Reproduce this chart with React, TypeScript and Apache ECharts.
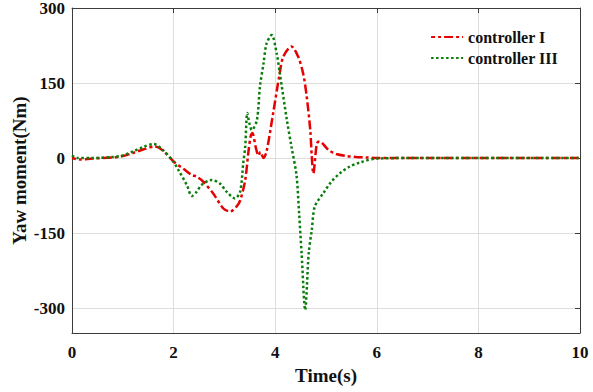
import React, { useEffect, useRef } from "react";
import * as echarts from "echarts";

const timeI = [0, 0.15, 0.4, 0.8, 1.0, 1.2, 1.4, 1.63, 1.8, 2.0, 2.2, 2.36, 2.45, 2.58, 2.78, 2.98, 3.11, 3.24, 3.31, 3.41, 3.47, 3.52, 3.55, 3.62, 3.67, 3.71, 3.77, 3.83, 3.96, 4.09, 4.16, 4.32, 4.45, 4.55, 4.62, 4.69, 4.72, 4.75, 4.82, 4.87, 5.05, 5.2, 5.4, 5.6, 5.8, 6.0, 7, 8, 9, 10];
const valueI = [0, -3, -1, 1, 4, 10, 17, 23, 14, -7, -22, -34, -37, -47, -71, -101, -107, -97, -85, -44, 10, 45, 50, 20, 5, 12, 0, 13, 90, 170, 203, 223, 203, 169, 123, 56, 3, -31, 29, 33, 16, 8, 4, 2, 1, 0, 0, 0, 0, 0];

const timeIII = [0, 0.1, 0.4, 0.8, 1.0, 1.2, 1.4, 1.6, 1.8, 2.0, 2.1, 2.26, 2.36, 2.45, 2.55, 2.75, 2.91, 3.05, 3.21, 3.31, 3.37, 3.41, 3.45, 3.49, 3.54, 3.64, 3.7, 3.77, 3.83, 3.93, 4.03, 4.09, 4.23, 4.32, 4.42, 4.47, 4.52, 4.59, 4.66, 4.72, 4.78, 4.95, 5.1, 5.28, 5.45, 5.67, 6.0, 7, 8, 9, 10];
const valueIII = [5, 0, 0, 2, 5, 13, 22, 28, 15, -8, -25, -54, -76, -68, -54, -44, -51, -68, -81, -67, -11, 23, 90, 70, 56, 76, 143, 189, 229, 246, 209, 170, 76, 23, -35, -110, -191, -304, -190, -144, -97, -70, -48, -30, -18, -9, -1, 0, 0, 0, 0];

const xTicks = { min: 0, max: 10, interval: 2 };
const yTicks = { min: -300, max: 300, interval: 150 };
const yRange = { min: -350, max: 300 };

const seriesNames = ["controller I", "controller III"];

const FONT = "Liberation Serif";
const AXIS = "#3c3c3c";
const GRIDC = "#dedede";
const RED = "#e60000";
const GREEN = "#0a7d0a";

export default function App() {
  const ref = useRef<HTMLDivElement>(null);
  useEffect(() => {
    if (!ref.current) return;
    const chart = echarts.init(ref.current, undefined, { renderer: "svg" });
    const dataI = timeI.map((t, i) => [t, valueI[i]]);
    const dataIII = timeIII.map((t, i) => [t, valueIII[i]]);
    const label = { fontFamily: FONT, fontWeight: "bold" as const, fontSize: 17, color: "#111" };
    chart.setOption({
      animation: false,
      backgroundColor: "#fff",
      textStyle: { fontFamily: FONT },
      grid: [
        { left: 72, top: 8, right: 13, bottom: 59 },
        { left: 72, top: 8, right: 13, bottom: 84 },
      ],
      legend: {
        right: 30,
        top: 24,
        orient: "vertical",
        itemWidth: 32,
        itemHeight: 12,
        itemGap: 5,
        itemStyle: { opacity: 0 },
        data: seriesNames,
        textStyle: { fontFamily: FONT, fontWeight: "bold", fontSize: 16, color: "#111" },
      },
      xAxis: [
        {
          type: "value",
          gridIndex: 0,
          min: xTicks.min,
          max: xTicks.max,
          interval: xTicks.interval,
          position: "bottom",
          name: "Time(s)",
          nameLocation: "middle",
          nameGap: 32,
          nameTextStyle: { ...label, fontSize: 19 },
          axisLine: { show: true, onZero: false, lineStyle: { color: AXIS, width: 1 } },
          axisTick: { show: false },
          splitLine: { show: true, lineStyle: { color: GRIDC, width: 1 } },
          axisLabel: { ...label, margin: 11 },
        },
        {
          type: "value",
          gridIndex: 0,
          min: xTicks.min,
          max: xTicks.max,
          interval: xTicks.interval,
          position: "top",
          axisLine: { show: true, onZero: false, lineStyle: { color: AXIS, width: 1 } },
          axisTick: { show: true, inside: true, length: 5, lineStyle: { color: AXIS } },
          splitLine: { show: false },
          axisLabel: { show: false },
        },
        {
          type: "value",
          gridIndex: 1,
          min: xTicks.min,
          max: xTicks.max,
          show: false,
        },
      ],
      yAxis: [
        {
          type: "value",
          gridIndex: 0,
          min: yRange.min,
          max: yRange.max,
          position: "left",
          name: "Yaw moment(Nm)",
          nameLocation: "middle",
          nameGap: 43,
          nameTextStyle: { ...label, fontSize: 19 },
          axisLine: { show: true, onZero: false, lineStyle: { color: AXIS, width: 1 } },
          axisTick: { show: false },
          splitLine: { show: false },
          axisLabel: { show: false },
        },
        {
          type: "value",
          gridIndex: 0,
          min: yRange.min,
          max: yRange.max,
          position: "right",
          axisLine: { show: true, onZero: false, lineStyle: { color: AXIS, width: 1 } },
          axisTick: { show: false },
          splitLine: { show: false },
          axisLabel: { show: false },
        },
        {
          type: "value",
          gridIndex: 1,
          min: yTicks.min,
          max: yTicks.max,
          interval: yTicks.interval,
          position: "left",
          axisLine: { show: false, onZero: false },
          axisTick: { show: false },
          splitLine: { show: true, lineStyle: { color: GRIDC, width: 1 } },
          axisLabel: { ...label, margin: 7 },
        },
        {
          type: "value",
          gridIndex: 1,
          min: yTicks.min,
          max: yTicks.max,
          interval: yTicks.interval,
          position: "right",
          axisLine: { show: false, onZero: false },
          axisTick: { show: true, inside: true, length: 5, lineStyle: { color: AXIS } },
          splitLine: { show: false },
          axisLabel: { show: false },
        },
      ],
      series: [
        {
          name: seriesNames[0],
          type: "line",
          xAxisIndex: 0,
          yAxisIndex: 0,
          data: dataI,
          showSymbol: false,
          symbol: "none",
          smooth: 0.3,
          z: 3,
          lineStyle: { color: RED, width: 2.5, type: [9, 3, 3, 3], dashOffset: 5 },
          itemStyle: { color: RED },
        },
        {
          name: seriesNames[1],
          type: "line",
          xAxisIndex: 0,
          yAxisIndex: 0,
          data: dataIII,
          showSymbol: false,
          symbol: "none",
          smooth: 0.3,
          z: 4,
          lineStyle: { color: GREEN, width: 2.5, type: [2.5, 2.5] },
          itemStyle: { color: GREEN },
        },
      ],
    });
    return () => chart.dispose();
  }, []);
  return <div ref={ref} style={{ width: 593, height: 392, position: "absolute", left: 0, top: 0 }} />;
}
